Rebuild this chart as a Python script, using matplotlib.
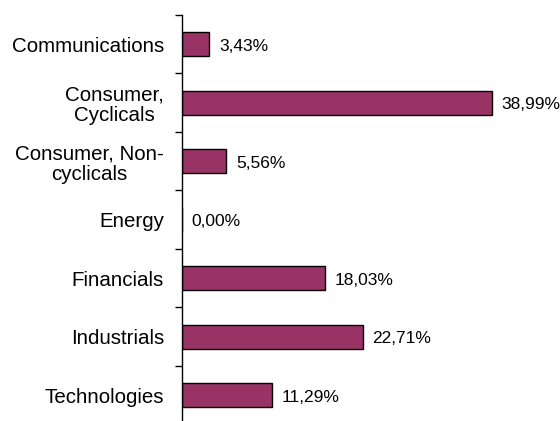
"""Sector allocation bar chart."""

import matplotlib

matplotlib.use("Agg")
import matplotlib.pyplot as plt

plt.rcParams["font.family"] = ["Liberation Sans", "DejaVu Sans"]

sectors = [
    "Communications",
    "Consumer,\nCyclicals",
    "Consumer, Non-\ncyclicals",
    "Energy",
    "Financials",
    "Industrials",
    "Technologies",
]
weights = [3.43, 38.99, 5.56, 0.00, 18.03, 22.71, 11.29]
value_labels = ["3,43%", "38,99%", "5,56%", "0,00%", "18,03%", "22,71%", "11,29%"]

BAR_COLOR = "#993366"


def main() -> None:
    fig = plt.figure(figsize=(5.6, 4.21), dpi=100)
    ax = fig.add_axes([0.325, -0.0083, 0.643, 0.9727])

    pos = list(range(len(sectors)))
    ax.barh(pos, weights, height=0.41, color=BAR_COLOR, edgecolor="black", linewidth=1.0)

    for y, w, lab in zip(pos, weights, value_labels):
        ax.annotate(lab, (w, y), xytext=(7, -1.5), textcoords="offset points",
                    ha="left", va="center", fontsize=12.5)

    ax.set_xlim(0, 45.3)
    ax.set_ylim(len(sectors) - 0.5, -0.5)

    ax.set_yticks(pos)
    ax.set_yticklabels(sectors, fontsize=14.8, multialignment="center", linespacing=1.1)
    ax.tick_params(axis="y", which="major", length=0, pad=13)
    ax.set_yticks([p - 0.5 for p in range(len(sectors) + 1)], minor=True)
    ax.tick_params(axis="y", which="minor", length=5, width=1, direction="out")

    ax.set_xticks([])
    for side in ("top", "right", "bottom"):
        ax.spines[side].set_visible(False)
    ax.spines["left"].set_linewidth(1.0)

    fig.savefig("out.png", dpi=100)
    plt.close(fig)


if __name__ == "__main__":
    main()
